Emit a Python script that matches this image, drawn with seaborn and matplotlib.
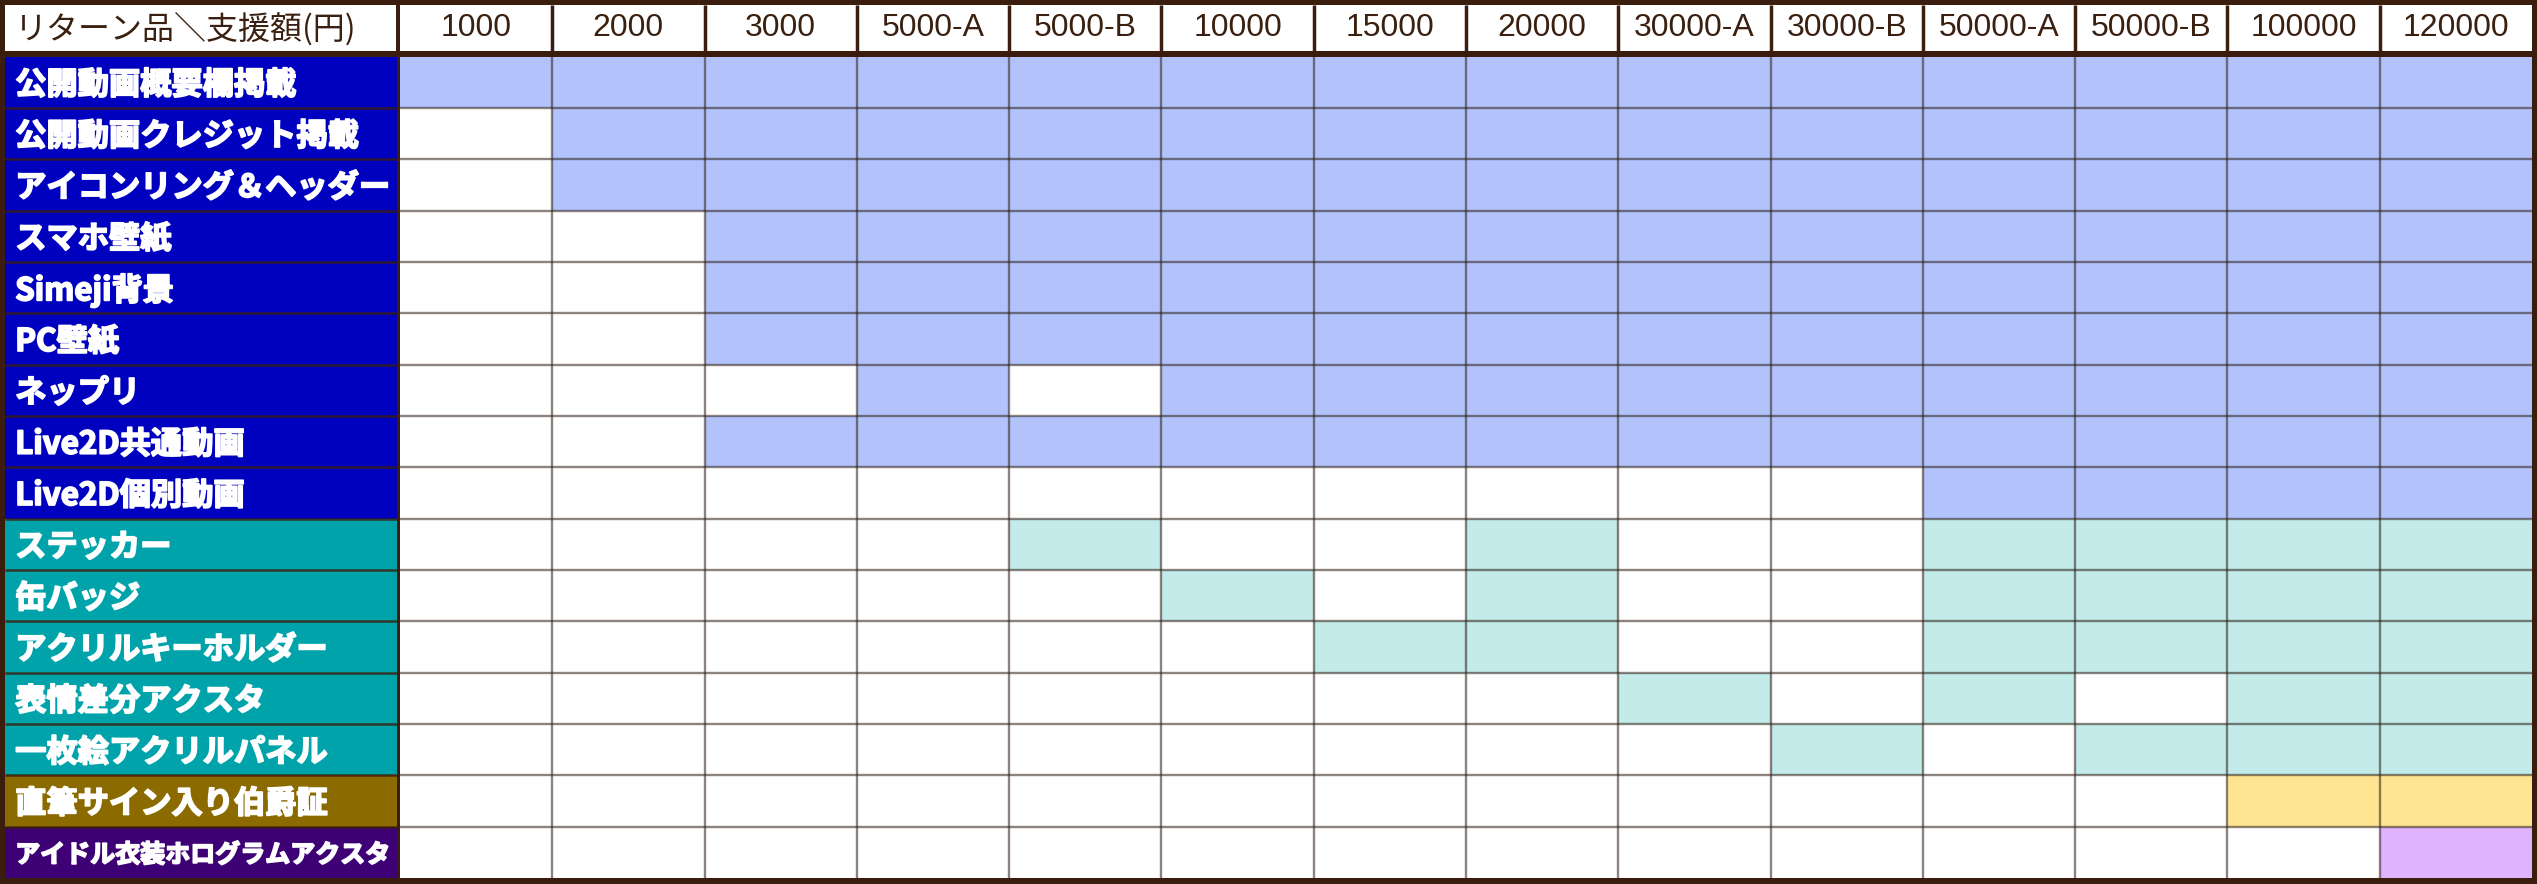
import numpy as np
import matplotlib
matplotlib.use("Agg")
import matplotlib.pyplot as plt
import matplotlib.patheffects as pe
from matplotlib.colors import ListedColormap
import seaborn as sns

# 支援額ごとのリターン一覧
columns = ["1000", "2000", "3000", "5000-A", "5000-B", "10000", "15000",
           "20000", "30000-A", "30000-B", "50000-A", "50000-B", "100000", "120000"]

rewards = ["公開動画概要欄掲載", "公開動画クレジット掲載", "アイコンリング＆ヘッダー",
           "スマホ壁紙", "Simeji背景", "PC壁紙", "ネップリ", "Live2D共通動画",
           "Live2D個別動画", "ステッカー", "缶バッジ", "アクリルキーホルダー",
           "表情差分アクスタ", "一枚絵アクリルパネル", "直筆サイン入り伯爵証",
           "アイドル衣装ホログラムアクスタ"]

# 1: デジタル, 2: グッズ, 3: 伯爵証, 4: ホログラム
row_group = [1, 1, 1, 1, 1, 1, 1, 1, 1, 2, 2, 2, 2, 2, 3, 4]

included = [
    [1, 1, 1, 1, 1, 1, 1, 1, 1, 1, 1, 1, 1, 1],
    [0, 1, 1, 1, 1, 1, 1, 1, 1, 1, 1, 1, 1, 1],
    [0, 1, 1, 1, 1, 1, 1, 1, 1, 1, 1, 1, 1, 1],
    [0, 0, 1, 1, 1, 1, 1, 1, 1, 1, 1, 1, 1, 1],
    [0, 0, 1, 1, 1, 1, 1, 1, 1, 1, 1, 1, 1, 1],
    [0, 0, 1, 1, 1, 1, 1, 1, 1, 1, 1, 1, 1, 1],
    [0, 0, 0, 1, 0, 1, 1, 1, 1, 1, 1, 1, 1, 1],
    [0, 0, 1, 1, 1, 1, 1, 1, 1, 1, 1, 1, 1, 1],
    [0, 0, 0, 0, 0, 0, 0, 0, 0, 0, 1, 1, 1, 1],
    [0, 0, 0, 0, 1, 0, 0, 1, 0, 0, 1, 1, 1, 1],
    [0, 0, 0, 0, 0, 1, 0, 1, 0, 0, 1, 1, 1, 1],
    [0, 0, 0, 0, 0, 0, 1, 1, 0, 0, 1, 1, 1, 1],
    [0, 0, 0, 0, 0, 0, 0, 0, 1, 0, 1, 0, 1, 1],
    [0, 0, 0, 0, 0, 0, 0, 0, 0, 1, 0, 1, 1, 1],
    [0, 0, 0, 0, 0, 0, 0, 0, 0, 0, 0, 0, 1, 1],
    [0, 0, 0, 0, 0, 0, 0, 0, 0, 0, 0, 0, 0, 1],
]

BG = "#3a1d0c"
TEXT = "#3a2010"
GRID = "#2e1e14"
label_colors = ["#0000bf", "#00a3aa", "#8b6a00", "#3e0075"]
cell_colors = ["#ffffff", "#b2c3fc", "#c2ebea", "#ffe592", "#dfb3fd"]

plt.rcParams["font.family"] = ["Noto Sans CJK JP", "DejaVu Sans"]

W, H = 2537, 884
fig = plt.figure(figsize=(W / 100, H / 100), dpi=100, facecolor=BG)


def px_axes(x0, y0, x1, y1):
    """axes from pixel box (top-left origin)"""
    return fig.add_axes([x0 / W, 1 - y1 / H, (x1 - x0) / W, (y1 - y0) / H])


n_rows, n_cols = len(rewards), len(columns)
grid = np.array(included) * np.array(row_group)[:, None]

# data cells
ax_data = px_axes(400, 56.5, 2532, 878)
sns.heatmap(grid, ax=ax_data, cmap=ListedColormap(cell_colors), vmin=-0.5, vmax=4.5,
            cbar=False, xticklabels=False, yticklabels=False)
ax_data.hlines(np.arange(1, n_rows), 0, n_cols, colors=GRID, alpha=0.55, linewidth=1.7)
ax_data.vlines(np.arange(1, n_cols), 0, n_rows, colors=GRID, alpha=0.55, linewidth=1.7)

# row labels
ax_lab = px_axes(5, 56.5, 397, 878)
sns.heatmap(np.array(row_group)[:, None], ax=ax_lab, cmap=ListedColormap(label_colors),
            vmin=0.5, vmax=4.5, cbar=False, xticklabels=False, yticklabels=False)
ax_lab.hlines(np.arange(1, n_rows), 0, 1, colors=BG, alpha=0.8, linewidth=1.8)
for i, name in enumerate(rewards):
    size = 18 if len(name) > 13 else 22.5
    ax_lab.text(0.026, i + 0.56, name, color="white", fontsize=size,
                fontweight="bold", ha="left", va="center",
                path_effects=[pe.withStroke(linewidth=1.3, foreground="white")])

# header
ax_hl = px_axes(5, 5, 396, 51)
ax_hl.set_facecolor("white")
ax_hl.set_xticks([])
ax_hl.set_yticks([])
for s in ax_hl.spines.values():
    s.set_visible(False)
ax_hl.text(0.026, 0.47, "リターン品＼支援額(円)", color=TEXT, fontsize=23,
           ha="left", va="center", transform=ax_hl.transAxes)

ax_hc = px_axes(400, 5, 2532, 51)
sns.heatmap(np.zeros((1, n_cols)), ax=ax_hc, cmap=ListedColormap(["white"]), vmin=0, vmax=1,
            cbar=False, annot=np.array([columns]), fmt="",
            annot_kws=dict(color=TEXT, fontsize=23, family=["Liberation Sans", "Noto Sans CJK JP"]),
            xticklabels=False, yticklabels=False)
ax_hc.vlines(np.arange(1, n_cols), 0, 1, colors=BG, linewidth=2.5)

fig.savefig("out.png", dpi=100, facecolor=BG)
